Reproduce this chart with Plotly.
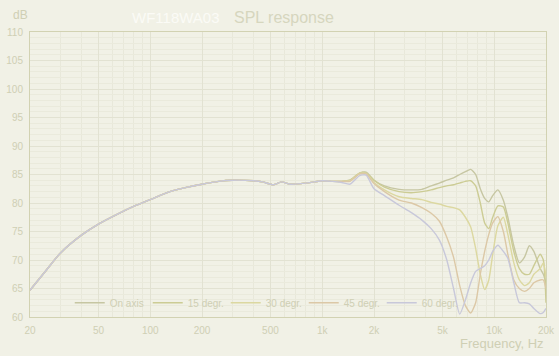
import plotly.graph_objects as go
import numpy as np

freq = [20, 25, 30, 40, 50, 65, 80, 100, 130, 160, 200, 250, 300, 400, 450, 520, 580, 650,
        750, 900, 1000, 1150, 1300, 1450, 1650, 1800, 2000, 2300, 2800, 3300, 3800, 4300,
        4800, 5300, 5800, 6300, 6800, 7300, 7800, 8300, 8800, 9300, 9800, 10500, 11300,
        12000, 13000, 14000, 15000, 16000, 17000, 18500, 19300, 20000]

low = [64.7, 68.3, 71.2, 74.4, 76.3, 78.1, 79.4, 80.6, 82.0, 82.7, 83.3, 83.8, 84.0, 83.9,
       83.7, 83.2, 83.7, 83.3, 83.4, 83.7, 83.9, 83.8, 83.8]

on_axis = low + [84.0, 85.2, 85.4, 84.0, 83.0, 82.4, 82.3, 82.4, 83.0, 83.5, 84.0, 84.4, 85.0,
                 85.5, 85.9, 85.0, 82.5, 80.8, 80.2, 81.3, 82.3, 80.5, 77.5, 72.5, 69.5, 70.5,
                 72.5, 71.5, 68.5, 67.5, 66.0]
deg15 = low + [84.0, 85.3, 85.3, 84.0, 82.8, 82.0, 81.8, 82.0, 82.3, 82.7, 83.0, 83.2, 83.5,
               83.8, 83.9, 83.0, 80.0, 76.5, 75.5, 77.5, 79.5, 79.3, 76.5, 71.5, 68.5, 67.5,
               67.5, 69.0, 71.0, 70.0, 62.5]
deg30 = low + [83.9, 85.2, 85.2, 83.6, 82.3, 81.1, 80.8, 80.6, 80.1, 79.8, 79.4, 79.2, 78.8,
               77.5, 75.8, 72.0, 67.5, 64.8, 66.5, 71.0, 76.0, 77.5, 74.5, 69.5, 66.5, 65.5,
               66.0, 67.5, 68.5, 69.5, 67.0]
deg45 = low + [83.8, 85.1, 85.1, 83.4, 82.0, 80.5, 80.0, 79.2, 78.2, 76.8, 74.0, 70.5, 65.5,
               62.0, 60.7, 62.5, 67.5, 71.5, 74.5, 76.5, 77.6, 75.0, 71.0, 66.5, 65.0, 64.5,
               65.0, 66.0, 66.5, 66.5, 65.0]
deg60 = low[:-1] + [83.6, 83.3, 84.8, 84.9, 82.5, 81.3, 79.6, 78.3, 77.0, 75.5, 73.5, 70.0,
                    65.0, 60.5, 63.0, 66.0, 68.0, 68.5, 69.0, 70.0, 71.5, 72.6, 71.5, 70.3,
                    66.0, 62.5, 62.5, 62.3, 61.5, 60.6, 60.8, 61.5]

series = [("On axis", on_axis, "#c6c6a2"),
          ("15 degr.", deg15, "#cccc94"),
          ("30 degr.", deg30, "#dcd8a0"),
          ("45 degr.", deg45, "#dcc8a6"),
          ("60 degr.", deg60, "#c8c8da")]

xtick_vals = [20, 50, 100, 200, 500, 1000, 2000, 5000, 10000, 20000]
xtick_text = ["20", "50", "100", "200", "500", "1k", "2k", "5k", "10k", "20k"]
minor_vals = [m * d for d in (10, 100, 1000, 10000) for m in range(1, 10) if 20 <= m * d <= 20000]

fig = go.Figure()
for name, vals, col in series:
    fig.add_trace(go.Scatter(x=freq, y=vals, name=name, mode="lines",
                             line=dict(color=col, width=1.4, shape="spline", smoothing=0.6)))

txt = "#cfcfb4"
fig.update_layout(
    width=559, height=356,
    margin=dict(l=30, r=13, t=32, b=39, autoexpand=False),
    paper_bgcolor="#f1f1e6", plot_bgcolor="#f1f1e6",
    font=dict(family="Liberation Sans, Arial, sans-serif", size=10, color=txt),
    showlegend=True,
    legend=dict(orientation="h", x=0.077, y=0.05, xanchor="left", yanchor="middle",
                bgcolor="rgba(0,0,0,0)", font=dict(size=10, color=txt),
                entrywidth=33, entrywidthmode="pixels", itemwidth=30, tracegroupgap=0),
    annotations=[
        dict(text="WF118WA03", x=0.372, y=1.0, xref="paper", yref="paper", yshift=15,
             xanchor="right", yanchor="middle", showarrow=False,
             font=dict(size=15, color="#fbfbf6")),
        dict(text="SPL response", x=0.391, y=1.0, xref="paper", yref="paper", yshift=15,
             xanchor="left", yanchor="middle", showarrow=False,
             font=dict(size=16, color="#d6d6be")),
        dict(text="dB", x=0, y=1.0, xref="paper", yref="paper", xshift=-19, yshift=17,
             xanchor="left", yanchor="middle", showarrow=False,
             font=dict(size=12, color=txt)),
        dict(text="Frequency, Hz", x=1.0, y=0, xref="paper", yref="paper", yshift=-26,
             xanchor="right", yanchor="middle", showarrow=False,
             font=dict(size=13, color=txt)),
    ],
)
fig.update_xaxes(type="log", range=[np.log10(20), np.log10(20000)], automargin=False,
                 tickvals=xtick_vals, ticktext=xtick_text, ticks="", ticklabelstandoff=4,
                 showline=True, linecolor="#d2d2b2", linewidth=1, mirror=True,
                 showgrid=True, gridcolor="#e2e2d2", gridwidth=1, zeroline=False,
                 minor=dict(tickvals=minor_vals, showgrid=True, gridcolor="#e8e8da", gridwidth=1),
                 tickfont=dict(size=10, color=txt))
fig.update_yaxes(range=[60, 110], dtick=5, ticks="", ticklabelstandoff=4, automargin=False,
                 showline=True, linecolor="#d2d2b2", linewidth=1, mirror=True,
                 showgrid=True, gridcolor="#e2e2d2", gridwidth=1, zeroline=False,
                 minor=dict(dtick=1, showgrid=True, gridcolor="#eaeadc", gridwidth=1),
                 tickfont=dict(size=10, color=txt))

fig.write_html("out.html")
